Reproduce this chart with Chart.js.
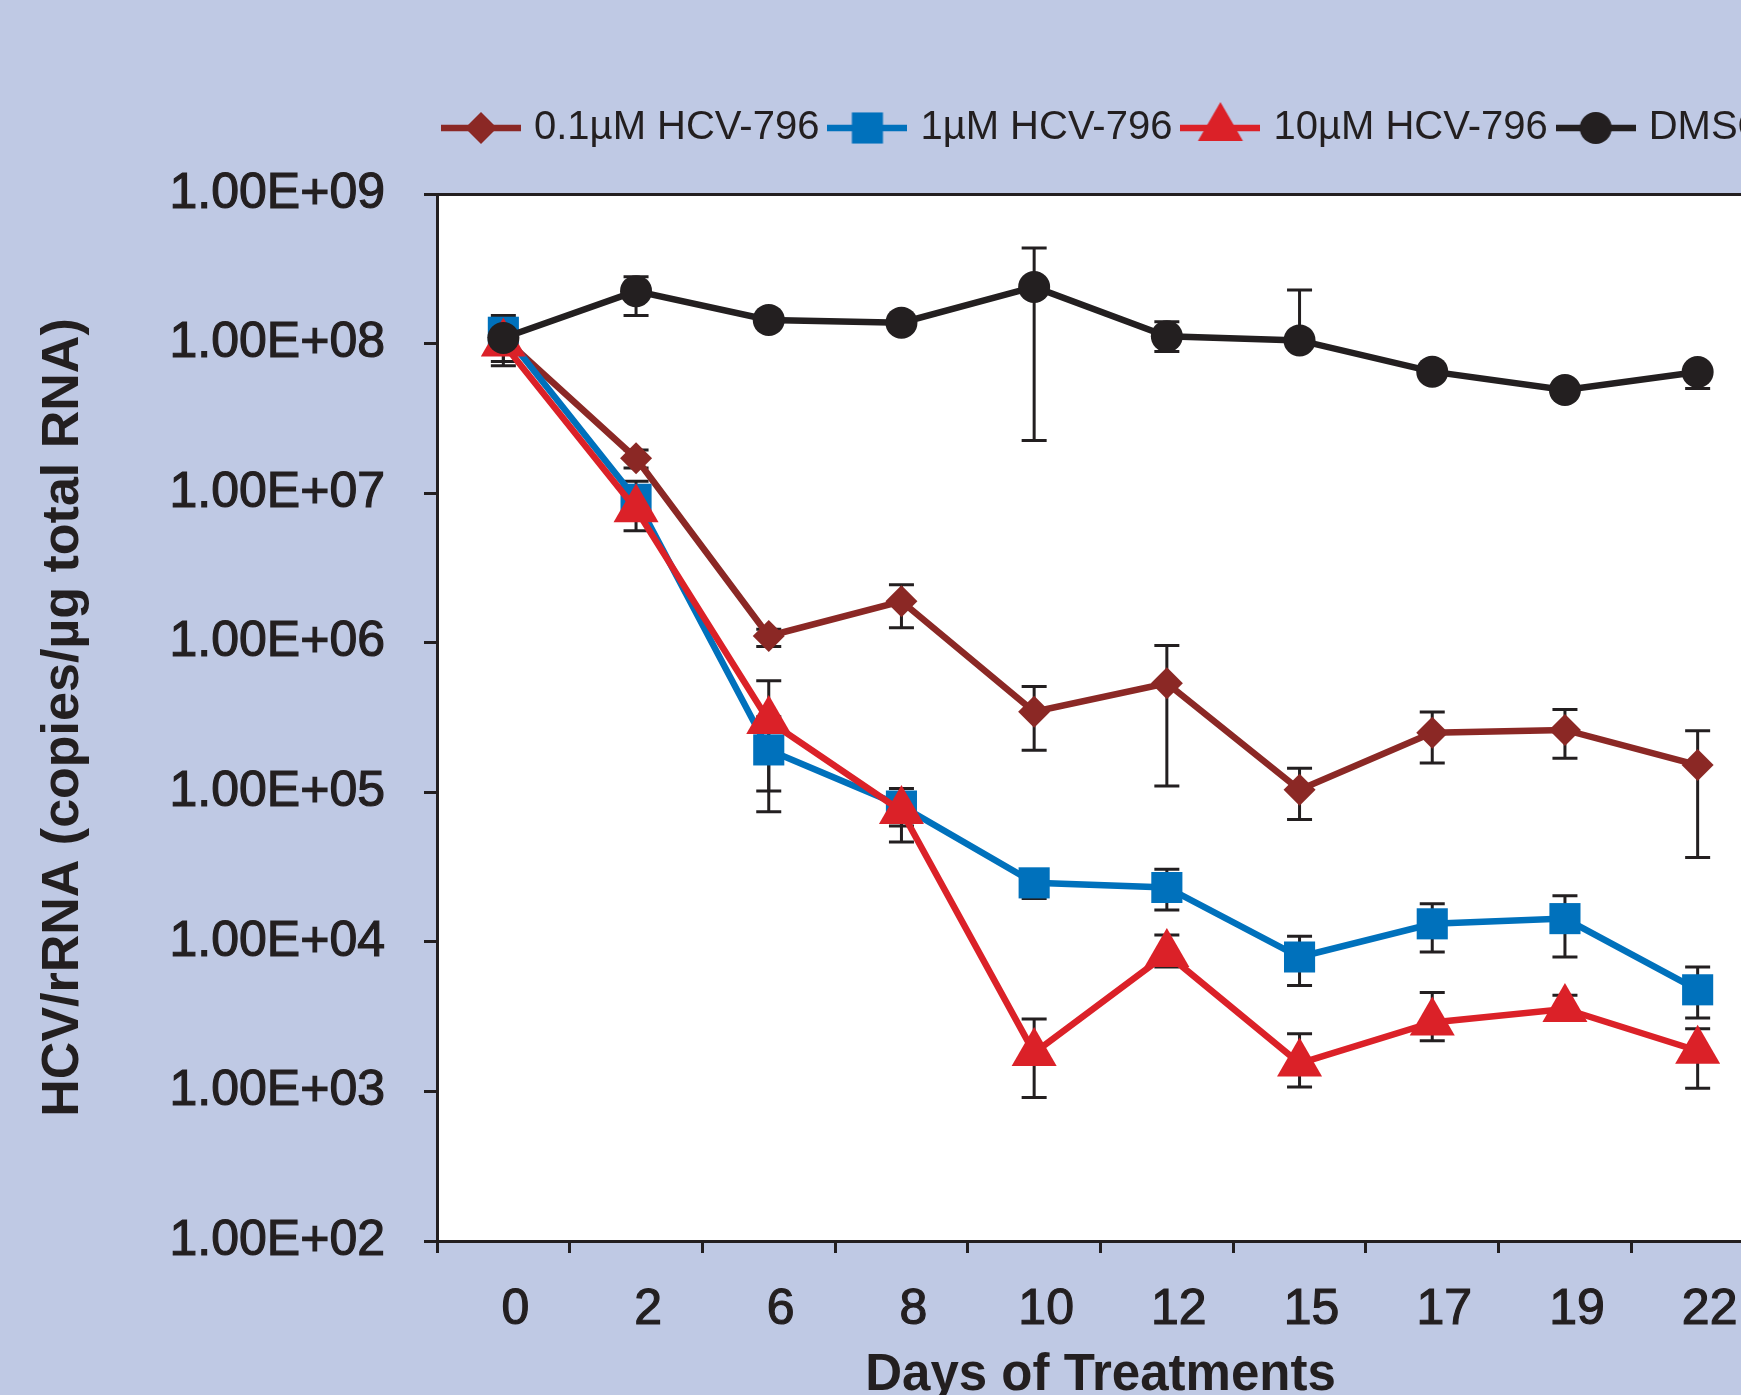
<!DOCTYPE html>
<html>
<head>
<meta charset="utf-8">
<title>HCV RNA reduction by HCV-796</title>
<script src="https://cdn.jsdelivr.net/npm/chart.js@4.4.1/dist/chart.umd.min.js"></script>
<style>
  html, body { margin: 0; padding: 0; background: #bfc9e4; overflow: hidden; }
  #chart { position: absolute; left: 0; top: 0; }
</style>
</head>
<body>
<canvas id="chart" width="1790" height="1395"></canvas>
<script>
const ink = '#231f20';
const font = "'Liberation Sans', Arial, Helvetica, sans-serif";

const days = ['0', '2', '6', '8', '10', '12', '15', '17', '19', '22'];
const yTicks = [1e2, 1e3, 1e4, 1e5, 1e6, 1e7, 1e8, 1e9];
const yTickLabels = ['1.00E+02', '1.00E+03', '1.00E+04', '1.00E+05', '1.00E+06', '1.00E+07', '1.00E+08', '1.00E+09'];

// 0.1 uM HCV-796
const low = [1.1e8, 1.71e7, 1.11e6, 1.89e6, 3.46e5, 5.36e5, 1.04e5, 2.5e5, 2.61e5, 1.52e5];
const lowHi = [null, 1.94e7, 1.23e6, 2.44e6, 5.09e5, 9.58e5, 1.45e5, 3.44e5, 3.57e5, 2.58e5];
const lowLo = [null, 1.47e7, 9.45e5, 1.26e6, 1.91e5, 1.10e5, 6.58e4, 1.57e5, 1.69e5, 3.66e4];
// 1 uM HCV-796
const mid = [1.19e8, 9.1e6, 1.92e5, 8.1e4, 2.48e4, 2.31e4, 7.92e3, 1.32e4, 1.43e4, 4.78e3];
const midHi = [null, 1.2e7, 3.2e5, 1.06e5, 2.9e4, 3.06e4, 1.09e4, 1.80e4, 2.03e4, 6.78e3];
const midLo = [7.6e7, 6.9e6, 7.4e4, 5.94e4, 1.95e4, 1.63e4, 5.11e3, 8.55e3, 7.92e3, 3.1e3];
// 10 uM HCV-796
const high = [1.0e8, 7.8e6, 3.0e5, 7.5e4, 1.81e3, 8.3e3, 1.54e3, 2.89e3, 3.56e3, 1.87e3];
const highHi = [null, null, 5.56e5, null, 3.05e3, 1.11e4, 2.43e3, 4.59e3, 4.39e3, 2.62e3];
const highLo = [null, 5.6e6, 1.02e5, 4.66e4, 9.1e2, 6.78e3, 1.07e3, 2.18e3, null, 1.05e3];
// DMSO
const dmso = [1.09e8, 2.24e8, 1.44e8, 1.38e8, 2.39e8, 1.12e8, 1.05e8, 6.49e7, 4.89e7, 6.46e7];
const dmsoHi = [1.54e8, 2.8e8, null, null, 4.35e8, 1.40e8, 2.28e8, null, null, null];
const dmsoLo = [7.1e7, 1.54e8, null, null, 2.25e7, 8.84e7, null, null, null, 5.0e7];

function series(label, data, hi, lo, color, style, radius, order) {
  return {
    label, data, errHi: hi, errLo: lo, order,
    borderColor: color, backgroundColor: color,
    pointBackgroundColor: color, pointBorderWidth: 0,
    pointStyle: style, pointRadius: radius, pointHoverRadius: radius,
    borderWidth: 6.5, tension: 0, clip: false
  };
}

const datasets = [
  series('0.1\u00b5M HCV-796', low, lowHi, lowLo, '#8b2825', 'rectRot', 16, 3),
  series('1\u00b5M HCV-796', mid, midHi, midLo, '#0071bc', 'rect', 22, 2),
  series('10\u00b5M HCV-796', high, highHi, highLo, '#db2128', 'triangle', 26, 1),
  series('DMSO', dmso, dmsoHi, dmsoLo, ink, 'circle', 16, 0)
];

function legendIcon(ds) {
  const c = document.createElement('canvas');
  c.width = 80; c.height = 56;
  const g = c.getContext('2d');
  g.strokeStyle = ds.borderColor; g.lineWidth = 6.5;
  g.beginPath(); g.moveTo(0, 28); g.lineTo(80, 28); g.stroke();
  g.fillStyle = ds.borderColor;
  Chart.helpers.drawPoint(g, {pointStyle: ds.pointStyle, radius: ds.pointRadius, rotation: 0, borderWidth: 0}, 40, 28);
  return c;
}

const plotBackground = {
  id: 'plotBackground',
  beforeDraw(chart) {
    const {ctx, chartArea: a} = chart;
    ctx.save();
    ctx.fillStyle = '#ffffff';
    ctx.fillRect(a.left, a.top, a.right - a.left, a.bottom - a.top);
    ctx.restore();
  }
};

const errorBars = {
  id: 'errorBars',
  beforeDatasetsDraw(chart) {
    const ctx = chart.ctx;
    const yScale = chart.scales.y;
    ctx.save();
    ctx.strokeStyle = ink;
    ctx.lineWidth = 3;
    chart.data.datasets.forEach((ds, di) => {
      const meta = chart.getDatasetMeta(di);
      ds.data.forEach((v, i) => {
        const hi = ds.errHi[i], lo = ds.errLo[i];
        if (hi == null && lo == null) return;
        const x = meta.data[i].x;
        const top = yScale.getPixelForValue(hi == null ? v : hi);
        const bot = yScale.getPixelForValue(lo == null ? v : lo);
        ctx.beginPath();
        ctx.moveTo(x, top); ctx.lineTo(x, bot);
        if (hi != null) { ctx.moveTo(x - 12.5, top); ctx.lineTo(x + 12.5, top); }
        if (lo != null) { ctx.moveTo(x - 12.5, bot); ctx.lineTo(x + 12.5, bot); }
        ctx.stroke();
      });
    });
    ctx.restore();
  }
};

// legend row starts over the plot, not at the canvas edge
const legendShift = {
  id: 'legendShift',
  afterLayout(chart) {
    chart.legend.left = 433;
    chart.legend.right = 2600;
  }
};

const icons = datasets.map(legendIcon);

new Chart(document.getElementById('chart'), {
  type: 'line',
  data: { labels: days, datasets },
  plugins: [plotBackground, errorBars, legendShift],
  options: {
    responsive: false,
    animation: false,
    layout: { padding: { top: 93, right: 14, left: 0, bottom: 0 } },
    plugins: {
      tooltip: { enabled: false },
      legend: {
        position: 'top',
        align: 'start',
        labels: {
          usePointStyle: true,
          pointStyleWidth: 66,
          padding: 15,
          color: ink,
          font: { family: font, size: 40 },
          generateLabels: chart => chart.data.datasets.map((ds, i) => ({
            text: ds.label,
            pointStyle: icons[i],
            fillStyle: ds.borderColor,
            strokeStyle: ds.borderColor,
            lineWidth: 0,
            fontColor: ink,
            hidden: false,
            datasetIndex: i
          }))
        }
      }
    },
    scales: {
      x: {
        type: 'category',
        position: 'bottom',
        offset: true,
        afterFit: s => { s.height = 154; },
        grid: { offset: true, drawOnChartArea: false, drawTicks: true, tickLength: 12, tickWidth: 3, tickColor: ink },
        border: { display: true, width: 3, color: ink },
        ticks: { color: ink, padding: 27, labelOffset: 12, maxRotation: 0, autoSkip: false,
                 textStrokeColor: ink, textStrokeWidth: 1.2,
                 font: { family: font, size: 50 } },
        title: { display: true, text: 'Days of Treatments', color: ink, padding: { top: 0, bottom: -6 },
                 font: { family: font, size: 51, weight: 'bold', lineHeight: 1 } }
      },
      x2: {
        type: 'category',
        position: 'top',
        afterFit: s => { s.height = 36; },
        grid: { display: false, drawTicks: false },
        border: { display: true, width: 3, color: ink },
        ticks: { display: false }
      },
      y: {
        type: 'logarithmic',
        position: 'left',
        min: 1e2,
        max: 1e9,
        afterFit: s => { s.width = 437; },
        afterBuildTicks: s => { s.ticks = yTicks.map(v => ({ value: v })); },
        grid: { drawOnChartArea: false, drawTicks: true, tickLength: 13, tickWidth: 3, tickColor: ink },
        border: { display: true, width: 3, color: ink },
        ticks: { color: ink, padding: 39, autoSkip: false,
                 textStrokeColor: ink, textStrokeWidth: 1.2,
                 font: { family: font, size: 50 },
                 callback: v => yTickLabels[yTicks.indexOf(v)] },
        title: { display: true, text: 'HCV/rRNA (copies/\u00b5g total RNA)', color: ink, padding: { top: 32, bottom: 0 },
                 font: { family: font, size: 52, weight: 'bold' } }
      }
    }
  }
});
</script>
</body>
</html>
